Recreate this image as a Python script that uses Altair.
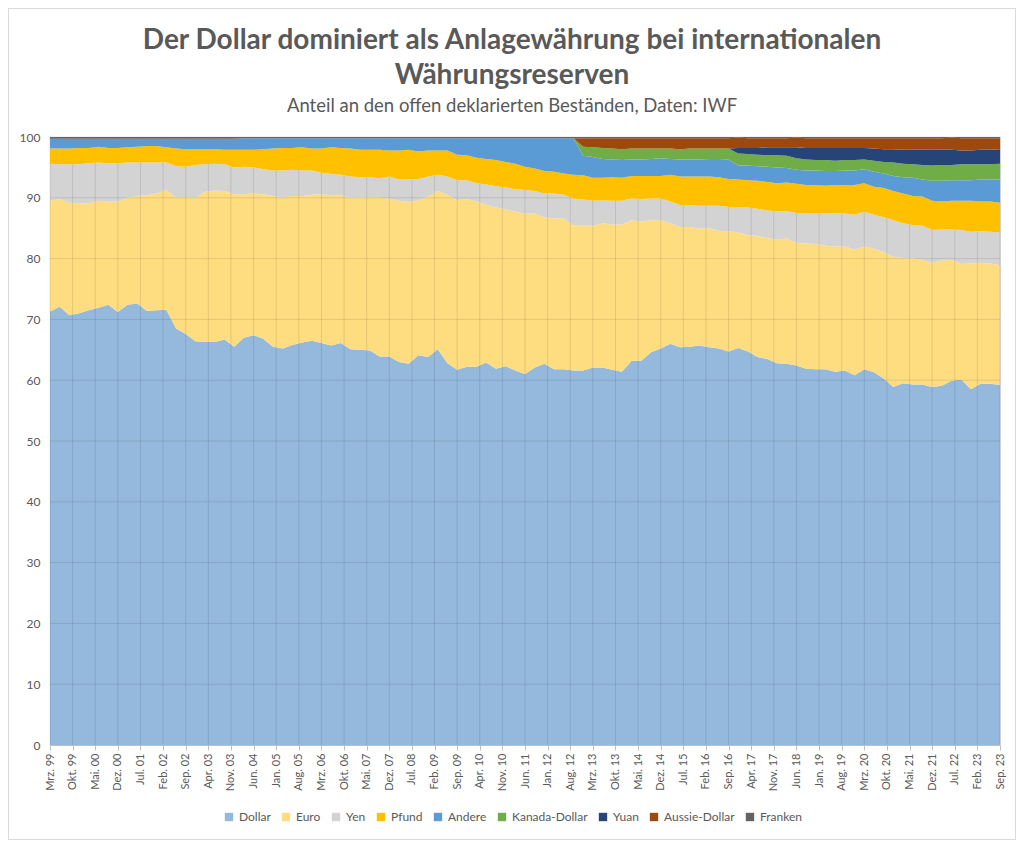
import json
import pandas as pd
import altair as alt

# ---------------- data (quarterly, Mrz. 99 .. Sep. 23) ----------------
series_names = ["Dollar", "Euro", "Yen", "Pfund", "Andere",
                "Kanada-Dollar", "Yuan", "Aussie-Dollar", "Franken"]
colors = ["#95B9DC", "#FEDC80", "#D3D3D3", "#FFC000", "#5B9BD5",
          "#70AD47", "#264478", "#9E480E", "#636363"]

dollar = [71.3, 72.1, 70.7, 71.0, 71.5, 71.9, 72.4, 71.2, 72.4, 72.6,
          71.4, 71.5, 71.6, 68.5, 67.6, 66.4, 66.3, 66.3, 66.7, 65.5,
          67.0, 67.4, 66.8, 65.5, 65.2, 65.8, 66.2, 66.5, 66.1, 65.7,
          66.1, 65.1, 65.0, 64.9, 63.9, 63.9, 63.0, 62.7, 64.1, 63.8,
          65.1, 62.8, 61.7, 62.2, 62.2, 62.9, 61.9, 62.3, 61.6, 61.0,
          62.1, 62.7, 61.8, 61.8, 61.6, 61.6, 62.1, 62.1, 61.7, 61.4,
          63.2, 63.2, 64.6, 65.2, 66.0, 65.4, 65.5, 65.7, 65.4, 65.2,
          64.7, 65.3, 64.7, 63.8, 63.5, 62.8, 62.7, 62.4, 61.9, 61.8,
          61.8, 61.4, 61.6, 60.8, 61.8, 61.3, 60.3, 58.9, 59.5, 59.3,
          59.3, 58.9, 59.1, 59.9, 60.1, 58.5, 59.4, 59.4, 59.2]

euro = [18.2, 17.7, 18.5, 18.1, 17.6, 17.6, 17.0, 18.2, 17.6, 17.7,
        19.0, 19.2, 19.7, 21.5, 22.4, 23.6, 24.7, 24.9, 24.4, 25.1,
        23.6, 23.3, 23.8, 24.8, 24.8, 24.5, 24.1, 24.0, 24.5, 24.7,
        24.3, 24.9, 25.1, 25.1, 26.1, 26.0, 26.5, 26.6, 25.5, 26.4,
        26.0, 27.7, 27.9, 27.6, 27.2, 25.9, 26.5, 25.8, 26.1, 26.4,
        25.3, 24.1, 24.8, 24.8, 23.9, 23.9, 23.3, 23.7, 23.9, 24.2,
        23.1, 22.9, 21.7, 21.1, 19.8, 19.8, 19.7, 19.2, 19.6, 19.4,
        19.8, 19.0, 19.2, 19.9, 19.9, 20.3, 20.6, 20.2, 20.6, 20.6,
        20.3, 20.6, 20.4, 20.7, 20.2, 20.3, 20.8, 21.4, 20.6, 20.7,
        20.5, 20.4, 20.6, 19.9, 19.0, 20.7, 19.9, 19.8, 19.7]

yen = [6.1, 5.7, 6.3, 6.4, 6.6, 6.3, 6.3, 6.3, 5.8, 5.5,
       5.4, 5.1, 4.5, 5.2, 5.1, 5.4, 4.5, 4.4, 4.4, 4.4,
       4.5, 4.3, 4.1, 4.2, 4.5, 4.3, 4.2, 4.0, 3.5, 3.5,
       3.4, 3.5, 3.3, 3.4, 3.2, 3.6, 3.5, 3.7, 3.5, 3.3,
       2.7, 3.0, 3.3, 3.1, 3.0, 3.4, 3.5, 3.6, 3.7, 3.9,
       3.7, 3.9, 4.1, 3.9, 4.4, 4.2, 4.1, 3.8, 3.9, 3.9,
       3.6, 3.7, 3.6, 3.6, 3.6, 3.6, 3.6, 3.8, 3.7, 4.1,
       4.0, 4.2, 4.5, 4.5, 4.5, 4.7, 4.5, 4.9, 5.0, 5.0,
       5.4, 5.5, 5.4, 5.7, 5.7, 5.6, 5.7, 6.0, 5.7, 5.5,
       5.6, 5.4, 5.1, 5.0, 5.6, 5.2, 5.2, 5.2, 5.4]

pfund = [2.5, 2.6, 2.6, 2.7, 2.5, 2.6, 2.5, 2.5, 2.5, 2.6,
         2.7, 2.7, 2.5, 2.9, 2.9, 2.6, 2.5, 2.4, 2.4, 2.9,
         2.8, 2.9, 3.3, 3.6, 3.7, 3.6, 3.8, 3.6, 4.0, 4.4,
         4.4, 4.6, 4.5, 4.5, 4.7, 4.3, 4.8, 4.9, 4.5, 4.3,
         4.0, 4.3, 4.2, 4.1, 4.2, 4.2, 4.3, 4.2, 4.2, 3.8,
         3.7, 3.7, 3.6, 3.5, 3.9, 4.0, 3.8, 3.7, 3.9, 3.8,
         3.7, 3.8, 3.7, 3.7, 4.4, 4.7, 4.7, 4.8, 4.8, 4.7,
         4.6, 4.5, 4.5, 4.6, 4.7, 4.6, 4.7, 4.8, 4.6, 4.7,
         4.5, 4.6, 4.7, 4.9, 4.7, 4.6, 4.8, 4.8, 4.9, 4.8,
         4.8, 4.8, 4.6, 4.7, 4.8, 5.1, 4.9, 5.0, 4.9]

andere = [1.6, 1.6, 1.6, 1.5, 1.5, 1.3, 1.5, 1.5, 1.4, 1.3,
          1.2, 1.2, 1.4, 1.6, 1.7, 1.7, 1.7, 1.7, 1.8, 1.8,
          1.9, 1.9, 1.8, 1.7, 1.6, 1.6, 1.5, 1.7, 1.7, 1.5,
          1.6, 1.7, 1.9, 1.9, 1.9, 2.0, 2.0, 1.9, 2.2, 2.0,
          2.0, 2.0, 2.7, 2.8, 3.2, 3.4, 3.6, 3.9, 4.2, 4.7,
          5.0, 5.4, 5.5, 5.8, 6.0, 3.2, 3.4, 3.1, 2.9, 2.9,
          2.7, 2.7, 2.8, 2.9, 2.6, 2.8, 2.8, 2.8, 2.9, 3.0,
          3.2, 2.3, 2.4, 2.4, 2.5, 2.6, 2.4, 2.3, 2.4, 2.4,
          2.4, 2.3, 2.4, 2.4, 2.3, 2.5, 2.4, 2.5, 2.7, 3.0,
          2.8, 3.3, 3.4, 3.4, 3.4, 3.4, 3.6, 3.6, 3.8]

# reported from Dez. 12 onwards
kanada = [1.5, 1.6, 1.8, 1.8, 1.8, 1.8, 1.8, 1.7, 1.6, 1.7,
          1.7, 1.8, 1.8, 1.7, 1.7, 1.8, 2.0, 1.9, 1.9, 1.9,
          2.0, 2.0, 1.9, 1.8, 1.7, 1.8, 1.7, 1.7, 1.7, 1.6,
          1.8, 1.9, 2.2, 2.2, 2.2, 2.4, 2.5, 2.6, 2.5, 2.6,
          2.6, 2.5, 2.5, 2.6]
aussie = [1.4, 1.5, 1.6, 1.7, 1.8, 1.7, 1.7, 1.7, 1.7, 1.7,
          1.8, 1.7, 1.7, 1.7, 1.7, 1.7, 1.7, 1.6, 1.6, 1.5,
          1.5, 1.5, 1.6, 1.6, 1.6, 1.6, 1.6, 1.6, 1.6, 1.6,
          1.7, 1.8, 1.8, 1.9, 1.9, 1.9, 1.9, 1.9, 2.0, 2.0,
          2.0, 1.9, 1.9, 1.8]
# reported from Dez. 16 onwards
yuan = [0.9, 1.0, 1.1, 1.3, 1.3, 1.4, 1.8, 1.9, 2.0, 2.0,
        2.1, 2.0, 2.0, 1.9, 2.0, 2.1, 2.2, 2.3, 2.4, 2.5,
        2.6, 2.5, 2.5, 2.3, 2.3, 2.4, 2.4, 2.4]

franken = [0.3] * 20 + [0.2] * 79

tick_labels = ["Mrz. 99", "Okt. 99", "Mai. 00", "Dez. 00", "Jul. 01", "Feb. 02",
               "Sep. 02", "Apr. 03", "Nov. 03", "Jun. 04", "Jan. 05", "Aug. 05",
               "Mrz. 06", "Okt. 06", "Mai. 07", "Dez. 07", "Jul. 08", "Feb. 09",
               "Sep. 09", "Apr. 10", "Nov. 10", "Jun. 11", "Jan. 12", "Aug. 12",
               "Mrz. 13", "Okt. 13", "Mai. 14", "Dez. 14", "Jul. 15", "Feb. 16",
               "Sep. 16", "Apr. 17", "Nov. 17", "Jun. 18", "Jan. 19", "Aug. 19",
               "Mrz. 20", "Okt. 20", "Mai. 21", "Dez. 21", "Jul. 22", "Feb. 23",
               "Sep. 23"]

title_lines = ["Der Dollar dominiert als Anlagewährung bei internationalen",
               "Währungsreserven"]
subtitle_text = "Anteil an den offen deklarierten Beständen, Daten: IWF"

# ---------------- table ----------------
n = len(dollar)


def pad(vals):
    return [0.0] * (n - len(vals)) + vals


cols = [dollar, euro, yen, pfund, andere, pad(kanada), pad(yuan), pad(aussie), franken]
rows = []
for i in range(n):
    for k, (name, vals) in enumerate(zip(series_names, cols)):
        rows.append({"m": 3 * i, "series": name, "k": k, "value": vals[i]})
df = pd.DataFrame(rows)

tick_pos = [7 * j for j in range(len(tick_labels))]
vgrid = pd.DataFrame({"m": tick_pos})
hgrid = pd.DataFrame({"y1": list(range(10, 101, 10))})

FONT = "Lato"
GREY = "#595959"

xscale = alt.Scale(domain=[0, 3 * (n - 1)], nice=False, zero=False)
yscale = alt.Scale(domain=[0, 100], nice=False)

xaxis = alt.Axis(values=tick_pos,
                 labelExpr=json.dumps(tick_labels) + "[round(datum.value / 7)]",
                 labelAngle=270, labelFontSize=11, labelColor=GREY, labelFont=FONT,
                 labelFlush=False, labelOverlap=False, labelPadding=3,
                 domainColor="#BFBFBF", tickColor="#BFBFBF", tickSize=5,
                 grid=False, title=None)
yaxis = alt.Axis(values=list(range(0, 101, 10)), domain=False, ticks=False,
                 labelPadding=10, labelFontSize=12, labelColor=GREY, labelFont=FONT,
                 grid=False, title=None)

color = alt.Color("series:N",
                  scale=alt.Scale(domain=series_names, range=colors),
                  legend=alt.Legend(title=None, orient="none", direction="horizontal",
                                    legendX=173, legendY=674, symbolType="square",
                                    symbolSize=70, symbolStrokeWidth=0,
                                    labelFontSize=12, labelColor=GREY, labelFont=FONT,
                                    columnPadding=9, labelOffset=4, padding=0))

base = alt.Chart(df).transform_stack(
    stack="value", groupby=["m"], as_=["y0", "y1"],
    sort=[alt.SortField("k", order="ascending")]
)

enc = dict(
    x=alt.X("m:Q", scale=xscale, axis=xaxis),
    y=alt.Y("y1:Q", scale=yscale, axis=yaxis),
    y2=alt.Y2("y0:Q"),
    color=color,
)

lower = base.transform_filter("datum.k < 3").mark_area(clip=True).encode(**enc)
upper = base.transform_filter("datum.k >= 3").mark_area(clip=True).encode(**enc)

vrules = alt.Chart(vgrid).mark_rule(color="#000000", opacity=0.1, strokeWidth=1).encode(
    x=alt.X("m:Q", scale=xscale, axis=xaxis))
hrules = alt.Chart(hgrid).mark_rule(color="#000000", opacity=0.1, strokeWidth=1).encode(
    y=alt.Y("y1:Q", scale=yscale, axis=yaxis))

# title & subtitle as text marks above the plot, centred on the whole chart
t1 = alt.Chart(pd.DataFrame({"t": [title_lines[0]]})).mark_text(
    font=FONT, fontSize=28, fontWeight="bold", color=GREY, align="center",
    baseline="middle").encode(text="t:N", x=alt.value(462), y=alt.value(-96))
t2 = alt.Chart(pd.DataFrame({"t": [title_lines[1]]})).mark_text(
    font=FONT, fontSize=28, fontWeight="bold", color=GREY, align="center",
    baseline="middle").encode(text="t:N", x=alt.value(462), y=alt.value(-61))
t3 = alt.Chart(pd.DataFrame({"t": [subtitle_text]})).mark_text(
    font=FONT, fontSize=18.5, color=GREY, align="center",
    baseline="middle").encode(text="t:N", x=alt.value(462), y=alt.value(-31))

border = alt.Chart(pd.DataFrame({"b": [0]})).mark_rect(
    filled=False, stroke="#D9D9D9", strokeWidth=1).encode(
    x=alt.value(-41.5), x2=alt.value(965.5), y=alt.value(-128.5), y2=alt.value(702.5))

chart = alt.layer(lower, vrules, hrules, upper, border, t1, t2, t3).properties(
    width=950, height=608,
    padding={"left": 42, "top": 129, "right": 16, "bottom": 95},
    autosize=alt.AutoSizeParams(type="none"),
).configure_view(stroke=None).configure(background="white")

chart.save("out.html", embed_options={"renderer": "svg", "actions": False})
